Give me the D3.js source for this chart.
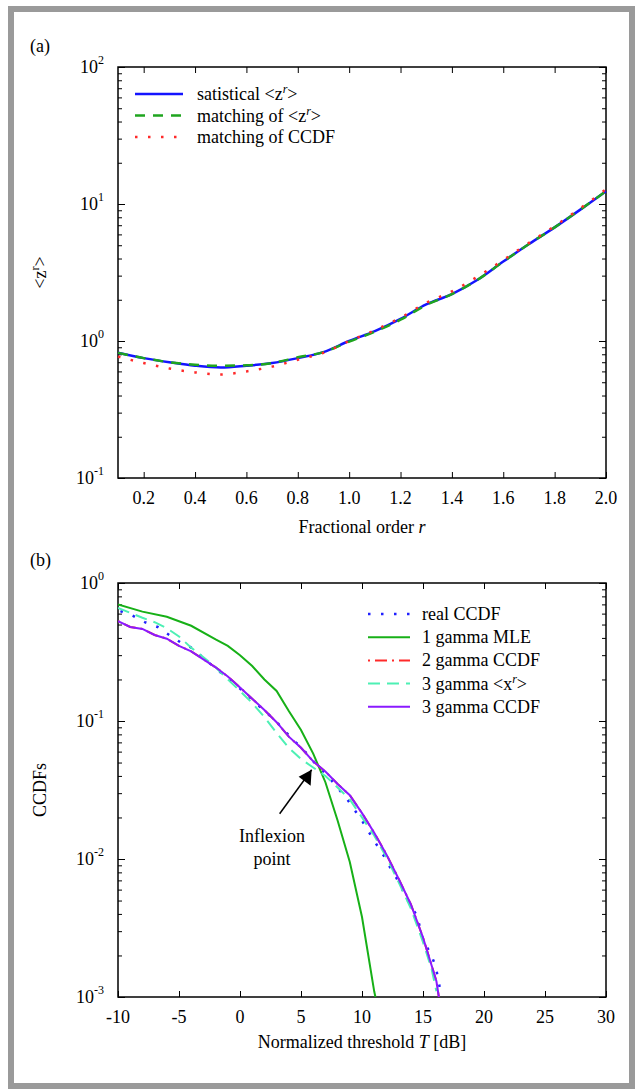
<!DOCTYPE html>
<html>
<head>
<meta charset="utf-8">
<script src="https://cdn.jsdelivr.net/npm/d3@7"></script>
<style>
  body { margin: 0; background: #fff; }
</style>
</head>
<body>
<script>
// ---- panel (a) data: fractional moments <z^r>
var orders = [0.1, 0.2, 0.3, 0.4, 0.5, 0.6, 0.7, 0.8, 0.9, 1.0, 1.1, 1.2, 1.3, 1.4, 1.5, 1.6, 1.7, 1.8, 1.9, 2.0];
var statMoments = [0.82, 0.75, 0.70, 0.66, 0.64, 0.66, 0.69, 0.75, 0.83, 1.00, 1.18, 1.45, 1.85, 2.2, 2.8, 3.8, 5.1, 6.75, 9.1, 12.4];
var matchMoments = [0.82, 0.75, 0.70, 0.67, 0.66, 0.665, 0.69, 0.76, 0.83, 0.99, 1.17, 1.43, 1.83, 2.2, 2.8, 3.8, 5.1, 6.75, 9.1, 12.4];
var matchCcdfMoments = [0.77, 0.69, 0.63, 0.59, 0.57, 0.60, 0.65, 0.73, 0.82, 1.0, 1.2, 1.48, 1.9, 2.3, 2.95, 3.9, 5.2, 6.9, 9.3, 12.8];
var aXTicks = [0.2, 0.4, 0.6, 0.8, 1.0, 1.2, 1.4, 1.6, 1.8, 2.0];
var aXLabels = ["0.2", "0.4", "0.6", "0.8", "1.0", "1.2", "1.4", "1.6", "1.8", "2.0"];
var aYExp = [-1, 0, 1, 2];

// ---- panel (b) data: CCDFs vs threshold T [dB]
var realT = [-9.8, -8.8, -7.8, -6.75, -5.8, -4.85, -3.9, -3.07, -2.1, -1.1, 0, 1, 2, 2.8, 3.5, 4.3, 5.2, 6.1, 7.1, 8.1, 8.8, 9.4, 10.0, 10.6, 11.2, 11.8, 12.3, 12.9, 13.4, 13.9, 14.5, 15.05, 15.6, 16.0, 16.3, 16.4];
var realCcdf = [0.625, 0.58, 0.52, 0.48, 0.42, 0.37, 0.337, 0.29, 0.245, 0.207, 0.172, 0.143, 0.118, 0.103, 0.088, 0.074, 0.062, 0.05, 0.041, 0.032, 0.027, 0.0226, 0.019, 0.0155, 0.0127, 0.0105, 0.0087, 0.0071, 0.0058, 0.0047, 0.0039, 0.0025, 0.0021, 0.0017, 0.0013, 0.0011];

var mleT = [-10, -8, -6, -4, -2, -1, 0, 1, 2, 3, 4, 5, 6, 7, 8, 9, 10, 11, 11.1];
var mleCcdf = [0.70, 0.62, 0.57, 0.49, 0.39, 0.35, 0.30, 0.25, 0.20, 0.165, 0.118, 0.086, 0.058, 0.036, 0.019, 0.0095, 0.0038, 0.0011, 0.001];

var fitT = [-10, -9, -8, -7, -6, -5, -4, -3, -2, -1, 0, 1, 2, 3, 4, 5, 6, 7, 8, 9, 10, 11, 12, 13, 14, 15, 15.7, 16.1, 16.3];
var gamma2Ccdf = [0.53, 0.48, 0.465, 0.42, 0.395, 0.35, 0.32, 0.28, 0.245, 0.21, 0.175, 0.145, 0.12, 0.098, 0.077, 0.064, 0.051, 0.043, 0.035, 0.029, 0.0215, 0.0155, 0.0108, 0.0072, 0.0047, 0.0027, 0.0017, 0.0013, 0.001];
var gamma3Ccdf = [0.53, 0.48, 0.465, 0.42, 0.395, 0.35, 0.32, 0.28, 0.245, 0.21, 0.175, 0.145, 0.12, 0.098, 0.077, 0.064, 0.051, 0.043, 0.035, 0.029, 0.0215, 0.0155, 0.0108, 0.0072, 0.0047, 0.0027, 0.0017, 0.0013, 0.001];

var momT = [-10, -8, -7, -6, -5, -4, -3, -2, -1, 0, 1, 2, 3, 4, 5, 6, 7, 8, 9, 10, 11, 12, 13, 14, 15, 15.7, 16.1];
var gamma3Mom = [0.66, 0.56, 0.52, 0.47, 0.41, 0.34, 0.29, 0.245, 0.20, 0.165, 0.135, 0.107, 0.082, 0.064, 0.053, 0.046, 0.040, 0.033, 0.027, 0.020, 0.0148, 0.0103, 0.0068, 0.0044, 0.0025, 0.0016, 0.0011];

var bXTicks = [-10, -5, 0, 5, 10, 15, 20, 25, 30];
var bXLabels = ["-10", "-5", "0", "5", "10", "15", "20", "25", "30"];
var bYExp = [-3, -2, -1, 0];

var svg = d3.select("body").append("svg")
  .attr("width", 637)
  .attr("height", 1091)
  .attr("font-family", "'Liberation Serif', 'Times New Roman', Times, 'DejaVu Serif', serif")

// outer gray frame
svg.append("rect")
  .attr("x", 11).attr("y", 9)
  .attr("width", 621).attr("height", 1077)
  .attr("fill", "none").attr("stroke", "#9a9a9a").attr("stroke-width", 6)

var left = 118, right = 606;

function zip(xs, ys) { return xs.map(function(x, i) { return [x, ys[i]]; }); }

function logMinors(lo, hi) {
  var out = [];
  for (var e = lo; e < hi; e++)
    for (var k = 2; k <= 9; k++) out.push(k * Math.pow(10, e));
  return out;
}

function drawFrame(g, x, y, xTicks, xLabels, yExp, top, bottom) {
  // box
  g.append("rect")
    .attr("x", left).attr("y", top)
    .attr("width", right - left).attr("height", bottom - top)
    .attr("fill", "none").attr("stroke", "#000").attr("stroke-width", 1.5)

  var majors = yExp.map(function(e) { return Math.pow(10, e); });
  var minors = logMinors(yExp[0], yExp[yExp.length - 1]);

  // inward ticks on all four sides
  g.append("g").attr("transform", "translate(0," + bottom + ")")
    .call(d3.axisBottom(x).tickValues(xTicks).tickSize(-6).tickFormat(""))
  g.append("g").attr("transform", "translate(0," + top + ")")
    .call(d3.axisTop(x).tickValues(xTicks).tickSize(-6).tickFormat(""))
  g.append("g").attr("transform", "translate(" + left + ",0)")
    .call(d3.axisLeft(y).tickValues(majors).tickSize(-7).tickFormat(""))
  g.append("g").attr("transform", "translate(" + left + ",0)")
    .call(d3.axisLeft(y).tickValues(minors).tickSize(-4).tickFormat(""))
  g.append("g").attr("transform", "translate(" + right + ",0)")
    .call(d3.axisRight(y).tickValues(majors).tickSize(-7).tickFormat(""))
  g.append("g").attr("transform", "translate(" + right + ",0)")
    .call(d3.axisRight(y).tickValues(minors).tickSize(-4).tickFormat(""))
  g.selectAll(".domain").remove()
  g.selectAll(".tick line").attr("stroke", "#000").attr("stroke-width", 1)

  // x tick labels
  g.append("g").selectAll("text")
    .data(xTicks)
    .enter().append("text")
    .attr("x", function(d) { return x(d); })
    .attr("y", bottom + 26)
    .attr("text-anchor", "middle")
    .attr("font-size", 18)
    .text(function(d, i) { return xLabels[i]; })

  // y tick labels 10^e
  var yl = g.append("g").selectAll("text")
    .data(yExp)
    .enter().append("text")
    .attr("x", left - 14)
    .attr("y", function(e) { return y(Math.pow(10, e)) + 6; })
    .attr("text-anchor", "end")
    .attr("font-size", 18)
  yl.append("tspan").text("10")
  yl.append("tspan").attr("dy", -9).attr("font-size", 12)
    .text(function(e) { return e; })
}

// ================= panel (a)
var aTop = 67, aBottom = 478;
var xa = d3.scaleLinear().domain([0.1, 2.0]).range([left, right]);
var ya = d3.scaleLog().domain([0.1, 100]).range([aBottom, aTop]);
var ga = svg.append("g");
drawFrame(ga, xa, ya, aXTicks, aXLabels, aYExp, aTop, aBottom);

var lineA = d3.line()
  .x(function(d) { return xa(d[0]); })
  .y(function(d) { return ya(d[1]); })
  .curve(d3.curveMonotoneX);

ga.append("path").attr("d", lineA(zip(orders, statMoments)))
  .attr("fill", "none").attr("stroke", "#1414ff").attr("stroke-width", 2.5)
ga.append("path").attr("d", lineA(zip(orders, matchMoments)))
  .attr("fill", "none").attr("stroke", "#1fa51f").attr("stroke-width", 2.5)
  .attr("stroke-dasharray", "10,8")
ga.append("path").attr("d", lineA(zip(orders, matchCcdfMoments)))
  .attr("fill", "none").attr("stroke", "#ff2a2a").attr("stroke-width", 2.5)
  .attr("stroke-dasharray", "2.5,10.5")

var legA = [
  {label: "satistical <z", sup: "r", tail: ">", color: "#1414ff", dash: null},
  {label: "matching of <z", sup: "r", tail: ">", color: "#1fa51f", dash: "10,8"},
  {label: "matching of CCDF", sup: null, tail: "", color: "#ff2a2a", dash: "2.5,10.5"}
];
var la = ga.append("g").selectAll("g").data(legA).enter().append("g")
  .attr("transform", function(d, i) { return "translate(0," + (94 + i * 21.5) + ")"; })
la.append("line").attr("x1", 135).attr("x2", 183)
  .attr("stroke", function(d) { return d.color; }).attr("stroke-width", 2.5)
  .attr("stroke-dasharray", function(d) { return d.dash; })
var lat = la.append("text").attr("x", 197).attr("y", 6).attr("font-size", 18)
lat.append("tspan").text(function(d) { return d.label; })
lat.append("tspan").attr("dy", -7).attr("font-size", 12).attr("font-style", "italic")
  .text(function(d) { return d.sup || ""; })
lat.append("tspan").attr("dy", 7).text(function(d) { return d.tail; })

svg.append("text").attr("x", 30).attr("y", 52).attr("font-size", 18).text("(a)")
var ta = svg.append("text").attr("font-size", 18).attr("text-anchor", "middle")
  .attr("transform", "translate(46," + ((aTop + aBottom) / 2) + ") rotate(-90)")
ta.append("tspan").text("<z")
ta.append("tspan").attr("dy", -7).attr("font-size", 12).text("r")
ta.append("tspan").attr("dy", 7).text(">")
var xta = svg.append("text").attr("x", (left + right) / 2).attr("y", 533)
  .attr("font-size", 18).attr("text-anchor", "middle")
xta.append("tspan").text("Fractional order ")
xta.append("tspan").attr("font-style", "italic").text("r")

// ================= panel (b)
var bTop = 583, bBottom = 997;
var xb = d3.scaleLinear().domain([-10, 30]).range([left, right]);
var yb = d3.scaleLog().domain([0.001, 1]).range([bBottom, bTop]);
var gb = svg.append("g");
drawFrame(gb, xb, yb, bXTicks, bXLabels, bYExp, bTop, bBottom);

svg.append("clipPath").attr("id", "clipb").append("rect")
  .attr("x", left).attr("y", bTop).attr("width", right - left).attr("height", bBottom - bTop)

var lineB = d3.line()
  .x(function(d) { return xb(d[0]); })
  .y(function(d) { return yb(d[1]); });

var curves = gb.append("g").attr("clip-path", "url(#clipb)")
curves.append("path").attr("d", lineB(zip(realT, realCcdf)))
  .attr("fill", "none").attr("stroke", "#2020ff").attr("stroke-width", 2.5)
  .attr("stroke-dasharray", "2.5,10.5")
curves.append("path").attr("d", lineB(zip(mleT, mleCcdf)))
  .attr("fill", "none").attr("stroke", "#17b017").attr("stroke-width", 2)
curves.append("path").attr("d", lineB(zip(fitT, gamma2Ccdf)))
  .attr("fill", "none").attr("stroke", "#ff2a2a").attr("stroke-width", 2)
  .attr("stroke-dasharray", "2,5,12,5")
curves.append("path").attr("d", lineB(zip(momT, gamma3Mom)))
  .attr("fill", "none").attr("stroke", "#4df0b4").attr("stroke-width", 2)
  .attr("stroke-dasharray", "12,7")
curves.append("path").attr("d", lineB(zip(fitT, gamma3Ccdf)))
  .attr("fill", "none").attr("stroke", "#8a1aff").attr("stroke-width", 2)

var legB = [
  {label: "real CCDF", sup: null, tail: "", color: "#2020ff", dash: "2.5,10.5", w: 2.5},
  {label: "1 gamma MLE", sup: null, tail: "", color: "#17b017", dash: null, w: 2},
  {label: "2 gamma CCDF", sup: null, tail: "", color: "#ff2a2a", dash: "2,5,12,5", w: 2},
  {label: "3 gamma <x", sup: "r", tail: ">", color: "#4df0b4", dash: "12,7", w: 2},
  {label: "3 gamma CCDF", sup: null, tail: "", color: "#8a1aff", dash: null, w: 2}
];
var lb = gb.append("g").selectAll("g").data(legB).enter().append("g")
  .attr("transform", function(d, i) { return "translate(0," + (614 + i * 23.2) + ")"; })
lb.append("line").attr("x1", 368).attr("x2", 410)
  .attr("stroke", function(d) { return d.color; })
  .attr("stroke-width", function(d) { return d.w; })
  .attr("stroke-dasharray", function(d) { return d.dash; })
var lbt = lb.append("text").attr("x", 422).attr("y", 6).attr("font-size", 18)
lbt.append("tspan").text(function(d) { return d.label; })
lbt.append("tspan").attr("dy", -7).attr("font-size", 12).attr("font-style", "italic")
  .text(function(d) { return d.sup || ""; })
lbt.append("tspan").attr("dy", 7).text(function(d) { return d.tail; })

// inflexion annotation
svg.append("defs").append("marker")
  .attr("id", "arrow").attr("viewBox", "0 0 10 10")
  .attr("refX", 9).attr("refY", 5)
  .attr("markerWidth", 7).attr("markerHeight", 7)
  .attr("markerUnits", "userSpaceOnUse")
  .attr("orient", "auto")
  .append("path").attr("d", "M0,0 L10,5 L0,10 z").attr("fill", "#000")
var tipT = 6.2, tipV = 0.049;
gb.append("line")
  .attr("x1", xb(tipT) - 36).attr("y1", yb(tipV) + 50)
  .attr("x2", xb(tipT) - 4).attr("y2", yb(tipV) + 6)
  .attr("stroke", "#000").attr("stroke-width", 1.5)
gb.append("path")
  .attr("d", d3.line()([[xb(tipT) - 4, yb(tipV) + 6], [xb(tipT) - 5, yb(tipV) + 22], [xb(tipT) - 17, yb(tipV) + 13]]))
  .attr("fill", "#000")
gb.append("text").attr("x", 272).attr("y", 842).attr("font-size", 18)
  .attr("text-anchor", "middle").text("Inflexion")
gb.append("text").attr("x", 272).attr("y", 865).attr("font-size", 18)
  .attr("text-anchor", "middle").text("point")

svg.append("text").attr("x", 30).attr("y", 566).attr("font-size", 18).text("(b)")
svg.append("text").attr("font-size", 18).attr("text-anchor", "middle")
  .attr("transform", "translate(46," + ((bTop + bBottom) / 2) + ") rotate(-90)")
  .text("CCDFs")
var xtb = svg.append("text").attr("x", (left + right) / 2).attr("y", 1048)
  .attr("font-size", 18).attr("text-anchor", "middle")
xtb.append("tspan").text("Normalized threshold ")
xtb.append("tspan").attr("font-style", "italic").text("T")
xtb.append("tspan").text(" [dB]")
</script>
</body>
</html>
